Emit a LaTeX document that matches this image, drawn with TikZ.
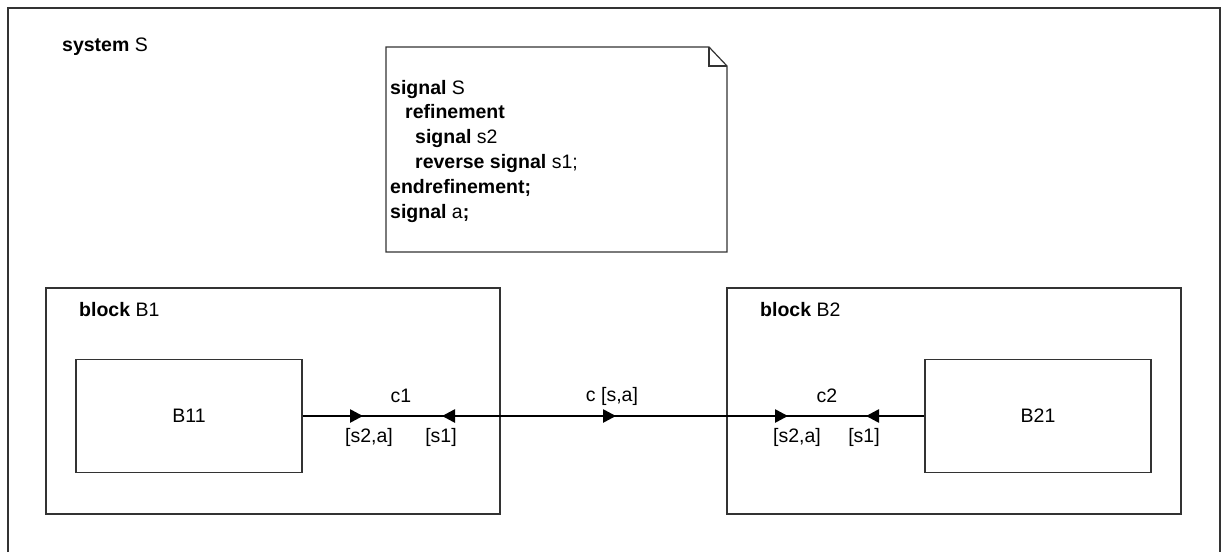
\documentclass[tikz,border=0pt]{standalone}
\usepackage{fontspec}
\setmainfont{Liberation Sans}
\usetikzlibrary{arrows.meta}

\tikzset{
  boxline/.style={draw=black!80, line width=1.2pt},
  blockbox/.style={boxline, rectangle, inner sep=0pt},
  sigline/.style={line width=2.6pt},
  sigtip/.style={sigline, -{Triangle[length=13pt,width=13pt]}},
  lbl/.style={inner sep=0pt, font=\fontsize{19.5}{23}\selectfont}
}

\begin{document}
\begin{tikzpicture}[x=1pt, y=-1pt]
    \useasboundingbox (0,0) rectangle (1224,552);
    % System frame (open at the bottom)
    \draw[boxline] (8,552) -- (8,8) -- (1220,8) -- (1220,552);
    \node[lbl, anchor=west] (sys) at (62,47) {\textbf{system} S};

    % Note with folded corner
    \draw[boxline] (386,47) -- (709,47) -- (727,66) -- (727,252) -- (386,252) -- cycle;
    \draw[boxline] (709,47) -- (709,66) -- (727,66);
    \node[lbl, anchor=west, align=left, font=\fontsize{19.5}{24.8}\selectfont] (note) at (390,151) {%
        \textbf{signal} S\\
        \hspace*{15pt}\textbf{refinement}\\
        \hspace*{25pt}\textbf{signal} s2\\
        \hspace*{25pt}\textbf{reverse signal} s1;\\
        \textbf{endrefinement;}\\
        \textbf{signal} a\textbf{;}};

    % Blocks
    \node[blockbox, minimum width=454pt, minimum height=226pt] (B1) at (273,401) {};
    \node[lbl, anchor=west] (B1name) at (79,310) {\textbf{block} B1};
    \node[blockbox, minimum width=226pt, minimum height=113pt] (B11) at (189,416) {};
    \node[lbl] (B11name) at (B11.center) {B11};

    \node[blockbox, minimum width=454pt, minimum height=226pt] (B2) at (954,401) {};
    \node[lbl, anchor=west] (B2name) at (760,310) {\textbf{block} B2};
    \node[blockbox, minimum width=226pt, minimum height=113pt] (B21) at (1038,416) {};
    \node[lbl] (B21name) at (B21.center) {B21};

    % Channel end points and tips
    \coordinate (p1) at (B1.east |- B11.east);
    \coordinate (p2) at (B2.west |- B21.west);
    \coordinate (c1a) at (363,416);
    \coordinate (c1b) at (442,416);
    \coordinate (ca)  at (616,416);
    \coordinate (c2a) at (788,416);
    \coordinate (c2b) at (866,416);

    % Signal route, drawn in one stroke
    \draw[sigline] (B11.east) -- (B21.west);

    % Channel c1
    \draw[sigtip] (B11.east) -- (c1a);
    \draw[sigtip] (p1) -- (c1b);
    \node[lbl] (c1) at (401,396) {c1};
    \node[lbl] (c1s) at (369,437) {[s2,a]};
    \node[lbl] (c1r) at (441,437) {[s1]};

    % Channel c
    \draw[sigtip] (p1) -- (ca);
    \node[lbl] (cname) at (612,396) {c [s,a]};

    % Channel c2
    \draw[sigtip] (p2) -- (c2a);
    \draw[sigtip] (B21.west) -- (c2b);
    \node[lbl] (c2) at (827,396) {c2};
    \node[lbl] (c2s) at (797,437) {[s2,a]};
    \node[lbl] (c2r) at (864,437) {[s1]};
\end{tikzpicture}
\end{document}
